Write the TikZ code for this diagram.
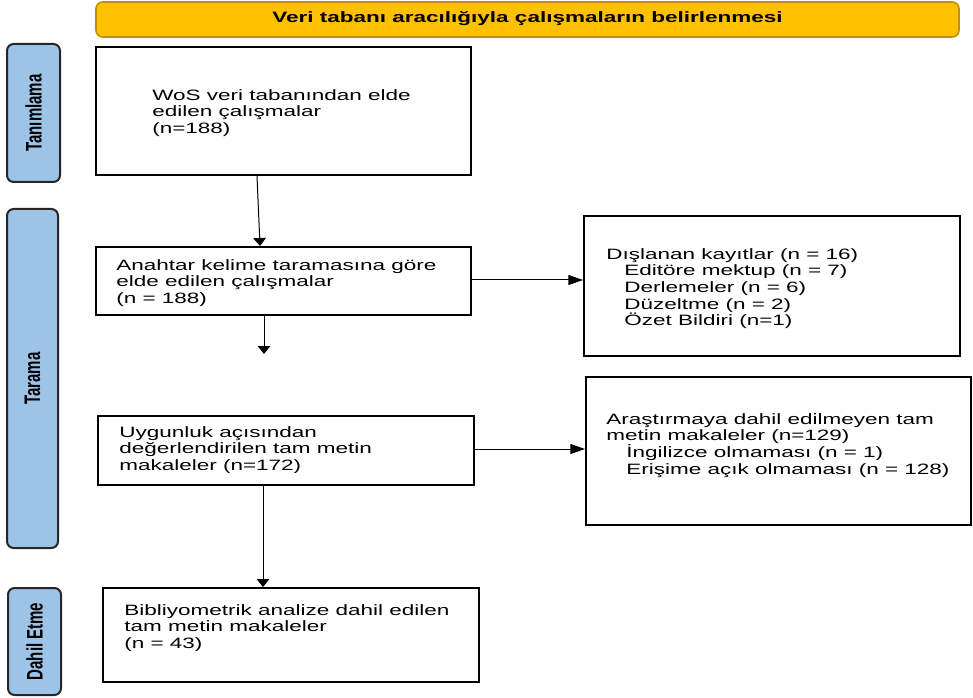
\documentclass[tikz,border=0pt]{standalone}
\usepackage{graphicx}
\usepackage{fontspec}
\setmainfont{Liberation Sans}[FakeStretch=1.5]
\newfontfamily\sidefont{Liberation Sans}
\usetikzlibrary{arrows.meta,calc,fit}
\definecolor{bannerfill}{HTML}{FFC000}
\definecolor{bannerline}{HTML}{BF9000}
\definecolor{sidefill}{HTML}{9DC3E6}
\begin{document}
\begin{tikzpicture}[x=0.75pt,y=-0.75pt,
  box/.style={draw=black, line width=1.5pt, inner sep=0pt},
  sidebox/.style={draw=black!85, fill=sidefill, line width=1.5pt, rounded corners=5pt, inner sep=0pt},
  bannerbox/.style={draw=bannerline, fill=bannerfill, line width=1.2pt, rounded corners=5pt, inner sep=0pt},
  txt/.style={anchor=north west, inner sep=0pt, align=left, font=\fontsize{11.25pt}{12.5pt}\selectfont},
  sidelbl/.style={rotate=90, inner sep=0pt, font=\sidefont\bfseries\fontsize{11.25pt}{12pt}\selectfont},
  varr/.style={line width=0.75pt, -{Triangle[length=6pt,width=9.5pt]}},
  harr/.style={line width=0.75pt, -{Triangle[length=11pt,width=7.5pt]}}
]
\useasboundingbox (0,0) rectangle (973,698);

% banner
\node[bannerbox, fit={(96,2) (959,37)}] (banner) {};
\node[anchor=base, inner sep=0pt, font=\bfseries\fontsize{11.25pt}{12.5pt}\selectfont] (bannertxt) at (527.5,23) {Veri tabanı aracılığıyla çalışmaların belirlenmesi};

% side labels
\node[sidebox, fit={(7,44) (60,182)}] (s1) {};
\node[sidelbl] (s1t) at (s1.center) {\scalebox{1}[1.5]{Tanımlama}};
\node[sidebox, fit={(7,209) (58,548)}] (s2) {};
\node[sidelbl] (s2t) at (s2.center) {\scalebox{1}[1.5]{Tarama}};
\node[sidebox, fit={(8,588) (61,695)}] (s3) {};
\node[sidelbl] (s3t) at (s3.center) {\scalebox{1}[1.5]{Dahil Etme}};

% main boxes
\node[box, fit={(96,47) (471,175)}] (b1) {};
\node[txt] (b1t) at (152,89) {WoS veri tabanından elde\\edilen çalışmalar\\(n=188)};

\node[box, fit={(96,247) (471,315)}] (b2) {};
\node[txt] (b2t) at (116,259) {Anahtar kelime taramasına göre\\elde edilen çalışmalar\\(n = 188)};

\node[box, fit={(98,416) (474,485)}] (b3) {};
\node[txt] (b3t) at (119,426) {Uygunluk açısından\\değerlendirilen tam metin\\makaleler (n=172)};

\node[box, fit={(103,588) (479,682)}] (b4) {};
\node[txt] (b4t) at (124,604) {Bibliyometrik analize dahil edilen\\tam metin makaleler\\(n = 43)};

% right boxes
\node[box, fit={(584,216) (960,356)}] (bA) {};
\node[txt] (bAt) at (606,248) {Dışlanan kayıtlar (n = 16)\\\hspace*{13.5pt}Editöre mektup (n = 7)\\\hspace*{13.5pt}Derlemeler (n = 6)\\\hspace*{13.5pt}Düzeltme (n = 2)\\\hspace*{13.5pt}Özet Bildiri (n=1)};

\node[box, fit={(586,377) (971,525)}] (bB) {};
\node[txt] (bBt) at (606,413) {Araştırmaya dahil edilmeyen tam\\metin makaleler (n=129)\\\hspace*{15pt}İngilizce olmaması (n = 1)\\\hspace*{15pt}Erişime açık olmaması (n = 128)};

% connectors
\coordinate (free) at (264,354);
\draw[varr] ($(b1.south)+(-26.5,0)$) -- ($(b2.north)+(-23.5,0)$);
\draw[varr] (b2.south -| free) -- (free);
\draw[varr] (b3.south -| 263,0) -- (b4.north -| 263,0);
\draw[harr] ($(b2.east)+(0,-1)$) -- ($(b2.east -| bA.west)+(0,-1)$);
\draw[harr] ($(b3.east)+(0,-1.5)$) -- ($(b3.east -| bB.west)+(0,-1.5)$);
\end{tikzpicture}
\end{document}
